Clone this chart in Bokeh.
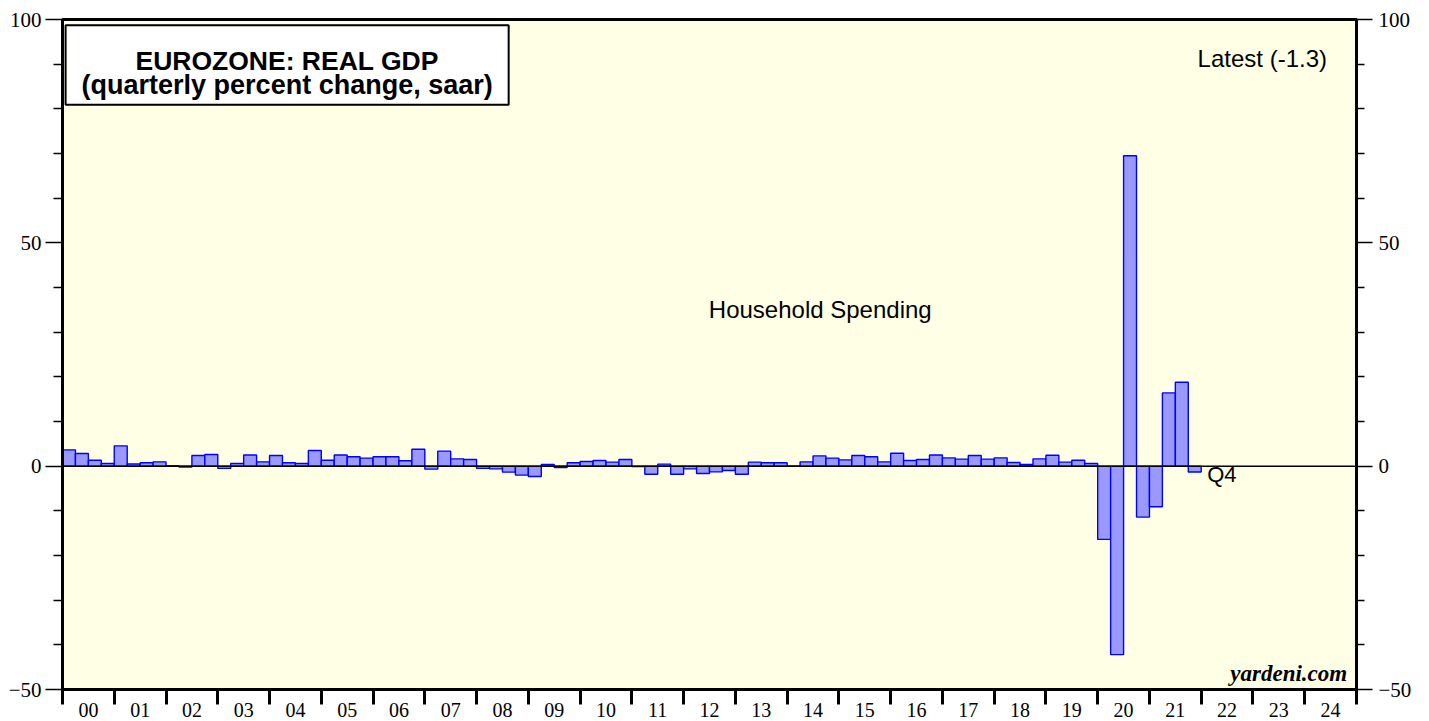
from bokeh.plotting import figure
from bokeh.models import (Range1d, LinearAxis, FixedTicker, Span, Label,
                          BoxAnnotation, ColumnDataSource)
from bokeh.embed import file_html
from bokeh.resources import INLINE

# ---------------- data ----------------
start_year = 2000
# Eurozone real GDP, quarterly % change saar, 2000Q1 .. 2021Q4
gdp = [
    3.65, 2.83, 1.34, 0.60,    # 2000
    4.55, 0.50, 0.75, 0.97,    # 2001
    0.10, -0.20, 2.40, 2.60,   # 2002
    -0.50, 0.60, 2.50, 0.97,   # 2003
    2.40, 0.75, 0.60, 3.50,    # 2004
    1.34, 2.50, 2.10, 1.80,    # 2005
    2.10, 2.10, 1.20, 3.80,    # 2006
    -0.67, 3.36, 1.64, 1.50,   # 2007
    -0.50, -0.60, -1.34, -2.00,  # 2008
    -2.30, 0.37, -0.30, 0.75,  # 2009
    1.04, 1.27, 0.90, 1.50,    # 2010
    -0.10, -1.80, 0.45, -1.80,  # 2011
    -0.60, -1.64, -1.27, -0.97,  # 2012
    -1.80, 0.90, 0.75, 0.75,   # 2013
    0.05, 0.97, 2.30, 1.80,    # 2014
    1.40, 2.40, 2.10, 0.97,    # 2015
    2.90, 1.27, 1.50, 2.50,    # 2016
    1.86, 1.57, 2.40, 1.57,    # 2017
    1.86, 0.82, 0.37, 1.64,    # 2018
    2.46, 0.90, 1.34, 0.60,    # 2019
    -16.40, -42.20, 69.50, -11.40,  # 2020
    -9.10, 16.40, 18.80, -1.30,  # 2021
]
year_ticks = list(range(2000, 2026))
year_labels = ["00", "01", "02", "03", "04", "05", "06", "07", "08", "09",
               "10", "11", "12", "13", "14", "15", "16", "17", "18", "19",
               "20", "21", "22", "23", "24"]
y_major = [-50, 0, 50, 100]
y_minor = [-40, -30, -20, -10, 10, 20, 30, 40, 60, 70, 80, 90]
latest = gdp[-1]

x_center = [start_year + (i + 0.5) / 4.0 for i in range(len(gdp))]
src = ColumnDataSource(dict(x=x_center, gdp=gdp))

# ---------------- figure ----------------
p = figure(width=1429, height=721,
           x_range=Range1d(2000, 2025), y_range=Range1d(-50, 100),
           output_backend="svg", toolbar_location=None,
           min_border_left=62, min_border_right=73,
           min_border_top=19, min_border_bottom=32,
           background_fill_color="#FFFFE6", border_fill_color="white",
           x_axis_location=None, y_axis_location=None)
p.grid.visible = False
p.outline_line_color = "black"
p.outline_line_width = 3

SERIF = "Liberation Serif"
SANS = "Liberation Sans"

# bottom axis: ticks at year boundaries (minor), labels at year centres
label_pos = [y + 0.5 for y in year_ticks[:-1]]
xaxis = LinearAxis(ticker=FixedTicker(ticks=label_pos, minor_ticks=year_ticks))
xaxis.major_label_overrides = {pos: lab for pos, lab in zip(label_pos, year_labels)}
xaxis.major_tick_out = 0
xaxis.major_tick_in = 0
xaxis.minor_tick_out = 0
xaxis.minor_tick_in = -15       # drawn outward, below the axis
xaxis.minor_tick_line_width = 3
xaxis.minor_tick_line_color = "black"
xaxis.axis_line_width = 3
xaxis.axis_line_color = "black"
xaxis.major_label_standoff = 13
xaxis.major_label_text_font = SERIF
xaxis.major_label_text_font_size = "20px"
xaxis.major_label_text_line_height = 0.7
xaxis.major_label_text_color = "black"
p.add_layout(xaxis, "below")

# left and right axes
for side, maj, mnr, stand in (("left", 17, 9, 4), ("right", 16, 8, 6)):
    ax = LinearAxis(ticker=FixedTicker(ticks=y_major, minor_ticks=y_minor))
    ax.major_tick_out = maj
    ax.major_tick_in = 0
    ax.minor_tick_out = mnr
    ax.minor_tick_in = 0
    ax.major_tick_line_width = 1.5
    ax.minor_tick_line_width = 1.5
    ax.major_tick_line_color = "black"
    ax.minor_tick_line_color = "black"
    ax.axis_line_width = 3
    ax.axis_line_color = "black"
    ax.major_label_standoff = stand
    ax.major_label_text_font = SERIF
    ax.major_label_text_font_size = "21px"
    ax.major_label_text_color = "black"
    p.add_layout(ax, side)

# bars
p.vbar(x="x", top="gdp", bottom=0, width=0.25, source=src,
       fill_color="#9999FF", line_color="#0000FF", line_width=1.4)

# zero line
p.add_layout(Span(location=0, dimension="width", line_color="black", line_width=1.5))

# title box
p.add_layout(BoxAnnotation(left=2000.06, right=2008.62, top=98.7, bottom=80.9,
                           fill_color="white", fill_alpha=1.0,
                           line_color="black", line_alpha=1.0, line_width=2))
p.add_layout(Label(x=2004.34, y=90.7, text="EUROZONE: REAL GDP",
                   text_font=SANS, text_font_style="bold", text_font_size="26.5px",
                   text_align="center", text_baseline="middle", text_color="black"))
p.add_layout(Label(x=2004.34, y=85.3, text="(quarterly percent change, saar)",
                   text_font=SANS, text_font_style="bold", text_font_size="27px",
                   text_align="center", text_baseline="middle", text_color="black"))

# annotations
p.add_layout(Label(x=2024.43, y=91.3, text="Latest (%.1f)" % latest,
                   text_font=SANS, text_font_size="24px",
                   text_align="right", text_baseline="middle", text_color="black"))
p.add_layout(Label(x=2014.64, y=35.1, text="Household Spending",
                   text_font=SANS, text_font_size="24px",
                   text_align="center", text_baseline="middle", text_color="black"))
p.add_layout(Label(x=x_center[-1] + 0.24, y=-1.9, text="Q4",
                   text_font=SANS, text_font_size="22px",
                   text_align="left", text_baseline="middle", text_color="black"))
p.add_layout(Label(x=2024.82, y=-49.3, text="yardeni.com",
                   text_font=SERIF, text_font_style="bold italic", text_font_size="23px",
                   text_align="right", text_baseline="bottom", text_color="black"))
p.add_layout(Label(x=1999.73, y=104.0, text="Figure 13.",
                   text_font=SANS, text_font_style="bold", text_font_size="24px",
                   text_align="left", text_baseline="middle", text_color="black"))

open("out.html", "w").write(file_html(p, INLINE))
